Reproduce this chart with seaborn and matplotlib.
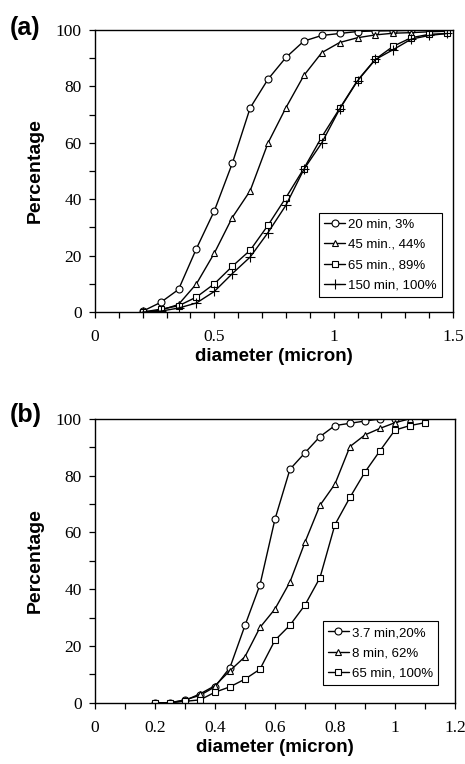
import matplotlib
matplotlib.use("Agg")
import pandas as pd
import seaborn as sns
import matplotlib.pyplot as plt
from matplotlib.ticker import MultipleLocator

# ---------- data ----------
A_X = [0.2, 0.275, 0.35, 0.425, 0.5, 0.575, 0.65, 0.725, 0.8, 0.875,
       0.95, 1.025, 1.1, 1.175, 1.25, 1.325, 1.4, 1.475]
A_20MIN = [0.3, 3.4, 8.0, 22.5, 35.9, 52.7, 72.4, 82.6, 90.3, 96.1,
           98.1, 98.8, 99.5, 99.7, 99.8, 99.9]
A_45MIN = [0, 0.6, 2.7, 10.0, 20.9, 33.5, 43.0, 60.0, 72.5, 83.9,
           92.0, 95.6, 97.3, 98.3, 98.9, 99.1, 99.4, 99.6]
A_65MIN = [0, 1.0, 2.2, 5.3, 10.0, 16.2, 21.9, 30.8, 40.6, 50.9,
           62.1, 72.2, 82.2, 89.7, 94.3, 97.3, 98.5, 98.8]
A_150MIN = [0, 0.3, 1.4, 3.2, 7.3, 13.6, 19.5, 28.2, 37.9, 50.6,
            60.0, 72.0, 82.0, 89.6, 93.1, 96.8, 98.1, 98.8]
A_LABELS = ["20 min, 3%", "45 min., 44%", "65 min., 89%", "150 min, 100%"]

B_X = [0.2, 0.25, 0.3, 0.35, 0.4, 0.45, 0.5, 0.55, 0.6, 0.65,
       0.7, 0.75, 0.8, 0.85, 0.9, 0.95, 1.0, 1.05, 1.1]
B_37MIN = [0, 0, 1.0, 2.6, 5.6, 12.4, 27.2, 41.5, 64.6, 82.2,
           88.0, 93.7, 97.6, 98.4, 99.2, 99.9, 100]
B_8MIN = [0, 0, 0.8, 3.1, 6.0, 11.3, 16.2, 26.5, 33.0, 42.5,
          56.5, 69.5, 77.0, 90.2, 94.3, 96.6, 98.6, 100, 100]
B_65MIN = [0, 0, 0.5, 1.0, 3.7, 5.6, 8.3, 11.8, 22.0, 27.3,
           34.4, 44.0, 62.7, 72.3, 81.2, 88.7, 96.0, 97.6, 98.6]
B_LABELS = ["3.7 min,20%", "8 min, 62%", "65 min, 100%"]

MARKERS = ["o", "^", "s", "+"]

SANS = ["Liberation Sans", "DejaVu Sans"]
SERIF = ["Liberation Serif", "DejaVu Serif"]


def draw_panel(ax, x, series, labels, xmax, xmajor, legend_anchor):
    for y, lab, mk in zip(series, labels, MARKERS):
        df = pd.DataFrame({"d": x[:len(y)], "p": y})
        sns.lineplot(data=df, x="d", y="p", ax=ax, color="black", lw=1.0,
                     marker=mk, markersize=7 if mk == "+" else 5,
                     markerfacecolor="white", markeredgecolor="black",
                     markeredgewidth=0.8, label=lab)
    ax.set_xlim(0, xmax)
    ax.set_ylim(0, 100)
    ax.xaxis.set_major_locator(MultipleLocator(xmajor))
    ax.xaxis.set_minor_locator(MultipleLocator(0.1))
    ax.yaxis.set_major_locator(MultipleLocator(20))
    ax.yaxis.set_minor_locator(MultipleLocator(10))
    ax.xaxis.set_major_formatter(plt.FuncFormatter(lambda v, p: f"{v:g}"))
    ax.tick_params(which="both", direction="out", length=4.5, width=0.9,
                   top=False, right=False, colors="black")
    ax.tick_params(axis="x", which="both", pad=8)
    ax.tick_params(axis="y", which="both", pad=5)
    for t in ax.get_xticklabels() + ax.get_yticklabels():
        t.set_family(SERIF)
        t.set_fontsize(12.5)
        t.set_color("black")
    for s in ax.spines.values():
        s.set_visible(True)
        s.set_linewidth(1.0)
        s.set_color("black")
    ax.set_xlabel("diameter (micron)", family=SANS, fontsize=13.5,
                  fontweight="bold", labelpad=2, color="black")
    ax.set_ylabel("Percentage", family=SANS, fontsize=14,
                  fontweight="bold", labelpad=9, color="black")
    leg = ax.legend(loc="lower right", bbox_to_anchor=legend_anchor,
                    borderaxespad=0, fancybox=False, framealpha=1,
                    edgecolor="black", handlelength=1.6, handletextpad=0.2,
                    labelspacing=0.62, borderpad=0.4,
                    prop={"family": SANS, "size": 9.5})
    leg.get_frame().set_linewidth(0.8)
    for t in leg.get_texts():
        t.set_color("black")
    ax.grid(False)


def main():
    sns.set_style("ticks")
    plt.rcParams["font.family"] = SANS
    plt.rcParams["text.color"] = "black"
    plt.rcParams["axes.labelcolor"] = "black"

    fig = plt.figure(figsize=(4.65, 7.64), dpi=100)
    ax_a = fig.add_axes([0.2043, 0.5916, 0.770, 0.369])
    ax_b = fig.add_axes([0.2043, 0.0802, 0.774, 0.3717])

    draw_panel(ax_a, A_X, [A_20MIN, A_45MIN, A_65MIN, A_150MIN], A_LABELS,
               1.5, 0.5, (0.969, 0.053))
    draw_panel(ax_b, B_X, [B_37MIN, B_8MIN, B_65MIN], B_LABELS,
               1.2, 0.2, (0.953, 0.062))

    fig.text(0.022, 0.963, "(a)", family=SANS, fontsize=18, fontweight="bold",
             va="center", ha="left", color="black")
    fig.text(0.022, 0.457, "(b)", family=SANS, fontsize=18, fontweight="bold",
             va="center", ha="left", color="black")

    fig.savefig("out.png", dpi=100)
    plt.close(fig)


if __name__ == "__main__":
    main()
